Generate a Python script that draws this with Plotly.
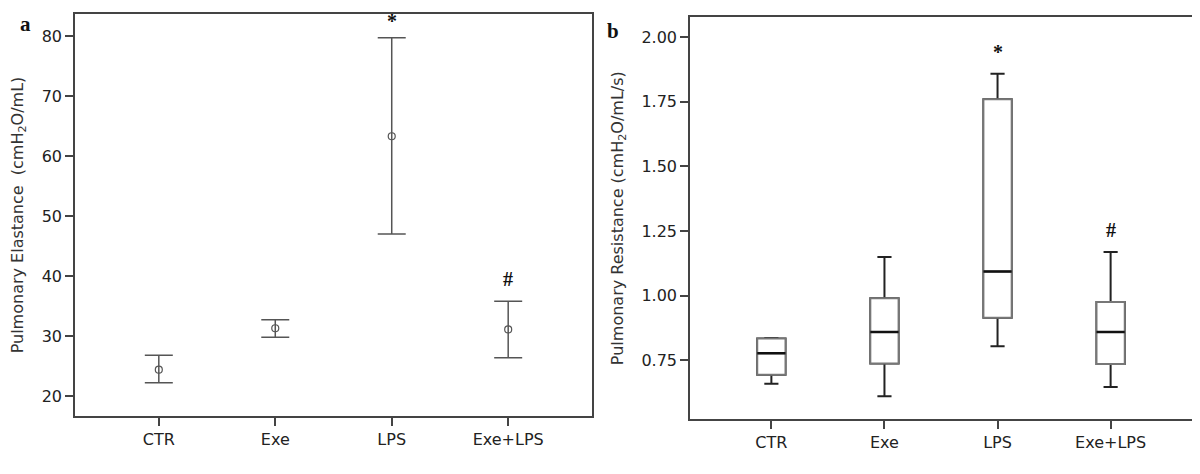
import plotly.graph_objects as go

groups = ["CTR", "Exe", "LPS", "Exe+LPS"]

# Panel a: mean with error bars (Pulmonary Elastance)
el_mean = [24.4, 31.3, 63.3, 31.1]
el_upper = [26.8, 32.7, 79.7, 35.8]
el_lower = [22.2, 29.8, 47.0, 26.4]
el_sig = ["", "", "*", "#"]

# Panel b: box plot (Pulmonary Resistance)
rs_low = [0.659, 0.611, 0.804, 0.647]
rs_q1 = [0.694, 0.738, 0.915, 0.736]
rs_med = [0.777, 0.860, 1.094, 0.860]
rs_q3 = [0.834, 0.990, 1.760, 0.976]
rs_high = [0.836, 1.150, 1.859, 1.169]
rs_sig = ["", "", "*", "#"]

FONT = "DejaVu Sans"
fig = go.Figure()

# ---- panel a ----
fig.add_trace(go.Scatter(
    x=groups, y=el_mean, mode="markers",
    marker=dict(symbol="circle-open", size=7, color="#555", line=dict(width=1.2)),
    error_y=dict(type="data", symmetric=False,
                 array=[u - m for u, m in zip(el_upper, el_mean)],
                 arrayminus=[m - l for m, l in zip(el_mean, el_lower)],
                 color="#555", thickness=1.5, width=14),
    xaxis="x", yaxis="y", showlegend=False, hoverinfo="skip"))

# ---- panel b ----
fig.add_trace(go.Box(
    x=groups, q1=rs_q1, median=rs_med, q3=rs_q3,
    lowerfence=rs_low, upperfence=rs_high,
    width=0.25, whiskerwidth=0.5, boxpoints=False,
    line=dict(color="#222", width=2), fillcolor="white",
    xaxis="x2", yaxis="y2", showlegend=False, hoverinfo="skip"))
fig.add_trace(go.Box(
    x=groups, q1=rs_q1, median=rs_med, q3=rs_q3,
    lowerfence=rs_q1, upperfence=rs_q3,
    width=0.25, whiskerwidth=0, boxpoints=False,
    line=dict(color="#777", width=2), fillcolor="white",
    xaxis="x2", yaxis="y2", showlegend=False, hoverinfo="skip"))
fig.add_trace(go.Box(
    x=groups, q1=rs_med, median=rs_med, q3=rs_med,
    lowerfence=rs_med, upperfence=rs_med,
    width=0.25, whiskerwidth=0, boxpoints=False,
    line=dict(color="#111", width=2.5), fillcolor="rgba(0,0,0,0)",
    xaxis="x2", yaxis="y2", showlegend=False, hoverinfo="skip"))

annotations = []
for g, u, s in zip(groups, el_upper, el_sig):
    if s:
        annotations.append(dict(x=g, y=u, xref="x", yref="y", text="<b>%s</b>" % s,
                                showarrow=False, yanchor="bottom",
                                yshift=4 if s == "*" else 9,
                                font=dict(family="Liberation Serif", size=20, color="#111")))
for g, u, s in zip(groups, rs_high, rs_sig):
    if s:
        annotations.append(dict(x=g, y=u, xref="x2", yref="y2", text="<b>%s</b>" % s,
                                showarrow=False, yanchor="bottom", yshift=9,
                                font=dict(family="Liberation Serif", size=20, color="#111")))
annotations.append(dict(x=0.0145, y=0.966, xref="paper", yref="paper", text="<b>a</b>",
                        showarrow=False, xanchor="center", yanchor="middle",
                        font=dict(family="Liberation Serif", size=21, color="#111")))
annotations.append(dict(x=0.504, y=0.9525, xref="paper", yref="paper", text="<b>b</b>",
                        showarrow=False, xanchor="center", yanchor="middle",
                        font=dict(family="Liberation Serif", size=21, color="#111")))

axis_common = dict(showline=True, mirror=True, linecolor="#444", linewidth=1.5,
                   ticks="outside", ticklen=8, tickwidth=1.5, tickcolor="#444",
                   showgrid=False, zeroline=False, automargin=False,
                   tickfont=dict(family=FONT, size=16, color="#222"))

fig.update_layout(
    width=1200, height=474,
    margin=dict(l=0, r=0, t=0, b=0, pad=0),
    paper_bgcolor="white", plot_bgcolor="white",
    boxmode="overlay",
    annotations=annotations,
    xaxis=dict(domain=[0.0558, 0.4867], anchor="y", type="category",
               range=[-0.72, 3.72], **axis_common),
    yaxis=dict(domain=[0.1392, 0.9873], anchor="x", range=[16.67, 83.67],
               tickvals=[20, 30, 40, 50, 60, 70, 80],
               title=dict(text="Pulmonary Elastance  (cmH<sub>2</sub>O/mL)", standoff=15,
                          font=dict(family=FONT, size=16, color="#333")),
               **axis_common),
    xaxis2=dict(domain=[0.5683, 0.9867], anchor="y2", type="category",
                range=[-0.72, 3.72], **axis_common),
    yaxis2=dict(domain=[0.1329, 0.9804], anchor="x2", range=[0.523, 2.077],
                tickvals=[0.75, 1.0, 1.25, 1.5, 1.75, 2.0], tickformat=".2f",
                title=dict(text="Pulmonary Resistance (cmH<sub>2</sub>O/mL/s)", standoff=14,
                           font=dict(family=FONT, size=16, color="#333")),
                **axis_common),
)

fig.write_html("out.html")
